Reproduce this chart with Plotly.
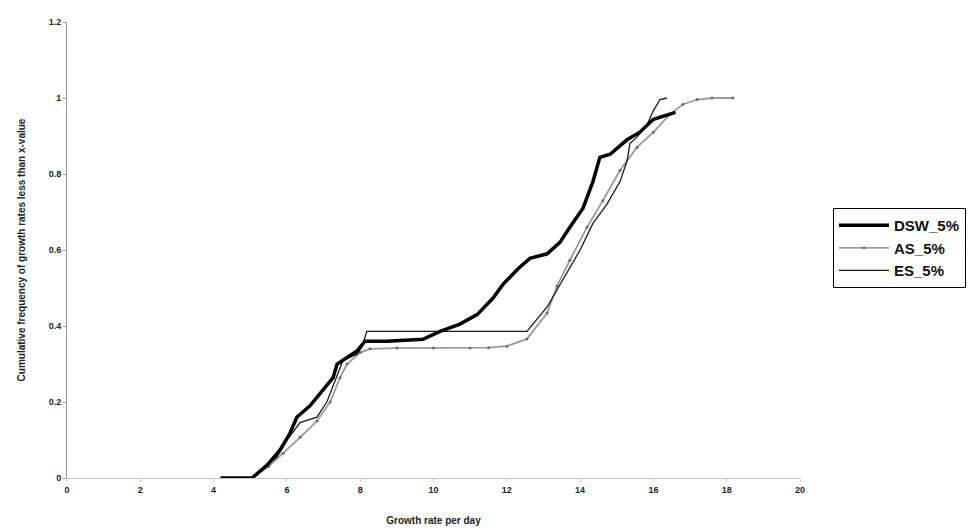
import plotly.graph_objects as go

# ---- data ----
dsw_x = [4.2, 5.05, 5.46, 5.81, 6.08, 6.27, 6.63, 6.98, 7.26, 7.37, 7.64, 7.91, 8.13, 8.73,
         9.71, 10.18, 10.72, 11.19, 11.62, 11.9, 12.3, 12.63, 13.1, 13.45, 13.72, 14.08,
         14.35, 14.54, 14.82, 15.28, 15.63, 16.0, 16.6]
dsw_y = [0, 0, 0.034, 0.073, 0.117, 0.16, 0.19, 0.23, 0.264, 0.30, 0.316, 0.334, 0.36, 0.36,
         0.365, 0.386, 0.405, 0.43, 0.473, 0.51, 0.55, 0.578, 0.59, 0.62, 0.66, 0.71,
         0.78, 0.844, 0.852, 0.89, 0.91, 0.944, 0.962]

as_x = [4.2, 5.05, 5.5, 5.9, 6.36, 6.82, 7.18, 7.45, 7.64, 8.0, 8.27, 9.0, 10.0, 11.0, 11.5,
        12.0, 12.55, 13.1, 13.37, 13.72, 14.19, 14.62, 15.09, 15.55, 16.0, 16.45, 16.8,
        17.19, 17.6, 18.17]
as_y = [0, 0, 0.03, 0.065, 0.107, 0.15, 0.2, 0.264, 0.30, 0.33, 0.34, 0.342, 0.342, 0.342,
        0.343, 0.347, 0.366, 0.434, 0.505, 0.573, 0.66, 0.73, 0.81, 0.87, 0.91, 0.957,
        0.983, 0.996, 1.0, 1.0]

es_x = [4.2, 5.05, 5.4, 5.73, 6.0, 6.36, 6.82, 7.09, 7.37, 7.53, 7.91, 8.05, 8.18, 12.55,
        13.1, 13.53, 14.0, 14.35, 14.73, 15.09, 15.28, 15.36, 15.55, 15.83, 15.99, 16.18, 16.37]
es_y = [0, 0, 0.03, 0.055, 0.1, 0.146, 0.16, 0.2, 0.27, 0.31, 0.326, 0.345, 0.386, 0.386,
        0.45, 0.52, 0.6, 0.67, 0.72, 0.78, 0.834, 0.88, 0.897, 0.93, 0.965, 0.996, 1.0]

x_ticks = [0, 2, 4, 6, 8, 10, 12, 14, 16, 18, 20]
y_ticks = [0, 0.2, 0.4, 0.6, 0.8, 1.0, 1.2]

font = "Liberation Sans, Arial, sans-serif"

fig = go.Figure()
fig.add_trace(go.Scatter(x=as_x, y=as_y, name="AS_5%", mode="lines+markers",
                         line=dict(color="#9a9a9a", width=1.8),
                         marker=dict(size=3, color="#6e6e6e"), legendrank=2))
fig.add_trace(go.Scatter(x=es_x, y=es_y, name="ES_5%", mode="lines",
                         line=dict(color="#1a1a1a", width=1.3), legendrank=3))
fig.add_trace(go.Scatter(x=dsw_x, y=dsw_y, name="DSW_5%", mode="lines",
                         line=dict(color="#000000", width=3.5), legendrank=1))

fig.update_layout(
    width=978, height=532,
    paper_bgcolor="white", plot_bgcolor="white",
    margin=dict(l=59, r=186, t=9, b=62),
    font=dict(family=font, color="#222"),
    legend=dict(x=1.045, y=0.592, xanchor="left", yanchor="top",
                bordercolor="#000", borderwidth=1, bgcolor="white",
                font=dict(size=15, family=font, color="#111", weight="bold"),
                itemwidth=50, tracegroupgap=0),
    xaxis=dict(range=[0, 20], tickvals=x_ticks, showgrid=False, zeroline=False,
               showline=True, linecolor="#c8c8c8", linewidth=1,
               ticks="outside", ticklen=3, tickcolor="#c8c8c8",
               tickfont=dict(size=9, family=font, color="#222", weight="bold"),
               title=dict(text="Growth rate per day",
                          font=dict(size=10, family=font, color="#222", weight="bold"),
                          standoff=23)),
    yaxis=dict(range=[0, 1.2], tickvals=y_ticks, showgrid=False, zeroline=False,
               showline=True, linecolor="#999999", linewidth=1,
               ticks="outside", ticklen=3, tickcolor="#999999",
               tickfont=dict(size=9, family=font, color="#222", weight="bold"),
               title=dict(text="Cumulative frequency of growth rates less than x-value",
                          font=dict(size=10, family=font, color="#222", weight="bold"),
                          standoff=21)),
)

fig.write_html("out.html")
